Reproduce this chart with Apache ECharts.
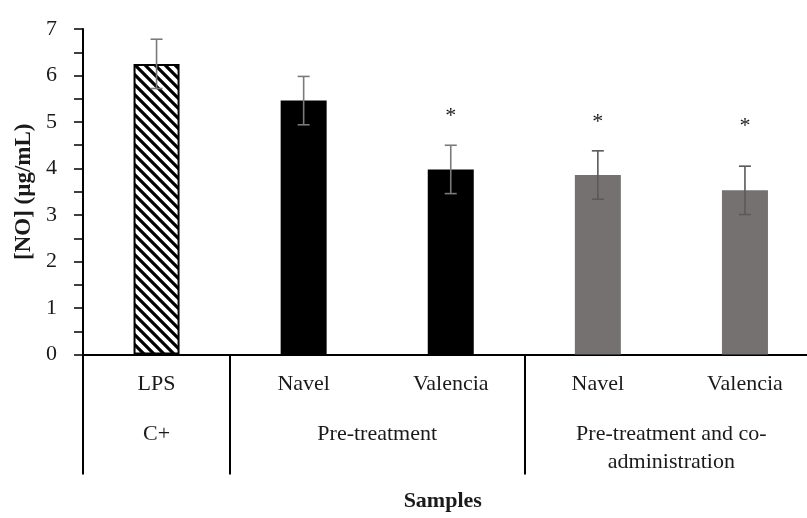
<!DOCTYPE html>
<html>
<head>
<meta charset="utf-8">
<script src="https://cdn.jsdelivr.net/npm/echarts@6/dist/echarts.min.js"></script>
<style>
html,body{margin:0;padding:0;background:#fff;overflow:hidden;}
#chart{width:819px;height:518px;}
</style>
</head>
<body>
<div id="chart"></div>
<script>
// ---- data ----
const categories = ['LPS', 'Navel', 'Valencia', 'Navel', 'Valencia'];
const means = [6.25, 5.46, 3.98, 3.86, 3.53];
const errors = [0.53, 0.52, 0.52, 0.52, 0.52];
const sigMarks = ['', '', '*', '*', '*'];
const sigY = [null, null, 5.19, 5.06, 4.98];
const groups = ['C+', 'Pre-treatment', 'Pre-treatment and co-\nadministration'];
const groupSpans = [1, 2, 2];
const yTicks = [0, 1, 2, 3, 4, 5, 6, 7];

// ---- derived ----
const groupBounds = [0];
const groupCenters = [];
groupSpans.forEach((s, i) => {
  const start = groupBounds[groupBounds.length - 1];
  groupCenters.push(start + s / 2);
  groupBounds.push(start + s);
});

// hatch pattern
const pc = document.createElement('canvas');
pc.width = 10; pc.height = 10;
const ctx = pc.getContext('2d');
ctx.fillStyle = '#fff';
ctx.fillRect(0, 0, 10, 10);
ctx.strokeStyle = '#000';
ctx.lineWidth = 3.2;
ctx.beginPath();
ctx.moveTo(-5, -5); ctx.lineTo(15, 15);
ctx.moveTo(-15, -5); ctx.lineTo(5, 15);
ctx.moveTo(5, -5); ctx.lineTo(25, 15);
ctx.stroke();

const barColors = [{image: pc, repeat: 'repeat'}, '#000000', '#000000', '#767171', '#767171'];
const errColors = ['#7a7a7a', '#7a7a7a', '#7a7a7a', '#5a5a5a', '#5a5a5a'];
const FONT = '"Liberation Serif", "Times New Roman", serif';

const chart = echarts.init(document.getElementById('chart'), null, {renderer: 'canvas'});

const option = {
  backgroundColor: '#fff',
  animation: false,
  grid: {left: 83, top: 29, right: 0.5, bottom: 163.5, containLabel: false},
  xAxis: [
    {
      type: 'category',
      data: categories,
      axisLine: {show: true, lineStyle: {color: '#000', width: 2}},
      axisTick: {show: false},
      axisLabel: {margin: 19, fontFamily: FONT, fontSize: 22, color: '#1a1a1a'},
      splitLine: {show: false}
    },
    {
      type: 'value',
      position: 'bottom',
      min: 0,
      max: categories.length,
      axisLine: {show: false},
      axisTick: {show: true, customValues: groupBounds, length: 120, lineStyle: {color: '#000', width: 2}},
      axisLabel: {
        show: true,
        customValues: groupCenters,
        margin: 66,
        fontFamily: FONT, fontSize: 22, color: '#1a1a1a', lineHeight: 28,
        verticalAlign: 'top',
        formatter: function (v) {
          const i = groupCenters.findIndex(c => Math.abs(c - v) < 1e-6);
          return i >= 0 ? groups[i] : '';
        }
      },
      splitLine: {show: false},
      name: 'Samples',
      nameLocation: 'middle',
      nameGap: 136,
      nameTextStyle: {fontFamily: FONT, fontSize: 22, fontWeight: 'bold', color: '#1a1a1a', padding: [0, 16, 0, 0]}
    }
  ],
  yAxis: {
    type: 'value',
    min: 0,
    max: 7,
    interval: 1,
    axisLine: {show: true, lineStyle: {color: '#000', width: 2}},
    axisTick: {show: true, length: 9, lineStyle: {color: '#000', width: 1.5}},
    minorTick: {show: true, splitNumber: 2, length: 9, lineStyle: {color: '#000', width: 1.5}},
    axisLabel: {margin: 26, fontFamily: FONT, fontSize: 22, color: '#1a1a1a',
      formatter: v => yTicks.includes(v) ? String(v) : ''},
    splitLine: {show: false},
    name: '[NO] (µg/mL)',
    nameLocation: 'middle',
    nameGap: 45,
    nameTextStyle: {fontFamily: FONT, fontSize: 23, fontWeight: 'bold', color: '#1a1a1a'}
  },
  series: [
    {
      type: 'bar',
      xAxisIndex: 0,
      barWidth: 46,
      data: means.map((v, i) => ({
        value: v,
        itemStyle: {
          color: barColors[i],
          borderColor: i === 0 ? '#000' : barColors[i],
          borderWidth: i === 0 ? 2 : 0
        }
      }))
    },
    {
      type: 'custom',
      xAxisIndex: 0,
      data: means.map((v, i) => [i, v, errors[i]]),
      renderItem: function (params, api) {
        const i = api.value(0);
        const top = api.coord([i, api.value(1) + api.value(2)]);
        const bot = api.coord([i, api.value(1) - api.value(2)]);
        const hw = 6;
        const style = {stroke: errColors[params.dataIndex], lineWidth: 1.6};
        return {
          type: 'group',
          children: [
            {type: 'line', shape: {x1: top[0], y1: top[1], x2: bot[0], y2: bot[1]}, style},
            {type: 'line', shape: {x1: top[0] - hw, y1: top[1], x2: top[0] + hw, y2: top[1]}, style},
            {type: 'line', shape: {x1: bot[0] - hw, y1: bot[1], x2: bot[0] + hw, y2: bot[1]}, style}
          ]
        };
      },
      z: 5
    },
    {
      type: 'custom',
      xAxisIndex: 0,
      data: sigY.map((v, i) => [i, v == null ? '-' : v]),
      renderItem: function (params, api) {
        const idx = params.dataIndex;
        if (!sigMarks[idx] || sigY[idx] == null) return null;
        const p = api.coord([api.value(0), api.value(1)]);
        return {
          type: 'text',
          x: p[0], y: p[1] + 3,
          style: {text: sigMarks[idx], fontFamily: FONT, fontSize: 22, fill: '#1a1a1a', align: 'center', verticalAlign: 'middle'}
        };
      },
      z: 6
    }
  ]
};
chart.setOption(option);
</script>
</body>
</html>
